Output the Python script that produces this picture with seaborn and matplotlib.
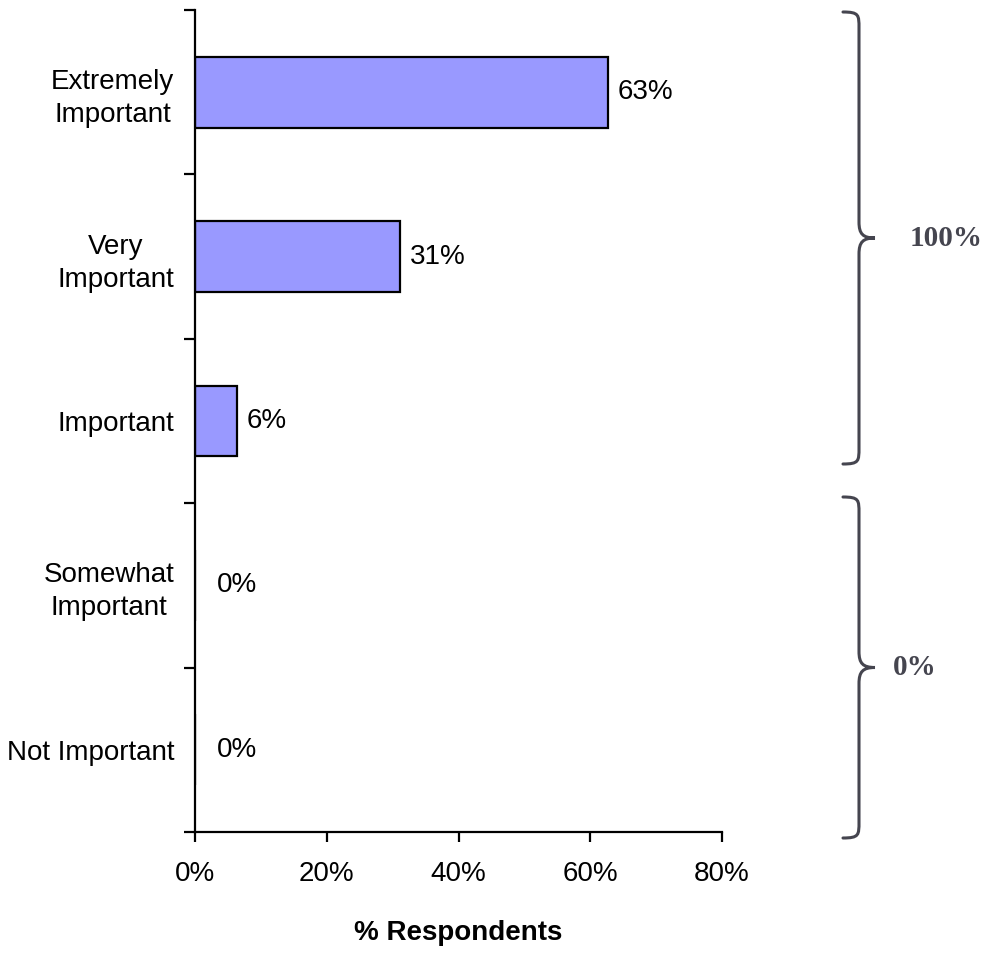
import pandas as pd
import seaborn as sns
import matplotlib.pyplot as plt
from matplotlib.path import Path
from matplotlib.patches import PathPatch

# data
categories = ['Extremely\nImportant', 'Very\nImportant', 'Important',
              'Somewhat\nImportant', 'Not Important']
percents = [62.7, 31.1, 6.4, 0.0, 0.0]
x_ticks = [0, 20, 40, 60, 80]

# bracket groups: label, top px, bottom px (figure pixels)
group_labels = ['100%', '0%']
group_tops = [12, 497]
group_bottoms = [464, 838]
group_text_x = [910, 893]

BAR_COLOR = '#9999FF'
BRACE_COLOR = '#45454f'


def draw_brace(ax, top, bottom, x_end=843, x_mid=859, x_tip=875):
    tip = (top + bottom) / 2
    r = 16
    verts = [(x_end, top),
             (x_mid, top), (x_mid, top + 3), (x_mid, top + r),
             (x_mid, tip - r),
             (x_mid, tip - 4), (x_mid + 4, tip), (x_tip, tip),
             (x_mid + 4, tip), (x_mid, tip + 4), (x_mid, tip + r),
             (x_mid, bottom - r),
             (x_mid, bottom - 3), (x_mid, bottom), (x_end, bottom)]
    codes = ([Path.MOVETO] + [Path.CURVE4] * 3 + [Path.LINETO]
             + [Path.CURVE4] * 6 + [Path.LINETO] + [Path.CURVE4] * 3)
    ax.add_patch(PathPatch(Path(verts, codes), facecolor='none',
                           edgecolor=BRACE_COLOR, lw=2.2, capstyle='round'))
    return tip


def main():
    sns.set_theme(style='white')
    plt.rcParams['font.family'] = ['Liberation Sans', 'DejaVu Sans']
    plt.rcParams['text.color'] = 'black'
    plt.rcParams['xtick.color'] = 'black'
    plt.rcParams['ytick.color'] = 'black'
    plt.rcParams['axes.labelcolor'] = 'black'

    df = pd.DataFrame({'Category': categories, 'Percent': percents})

    fig = plt.figure(figsize=(9.82, 9.58), dpi=100)
    ax = fig.add_axes([195 / 982, 126 / 958, 527 / 982, 822 / 958])

    sns.barplot(data=df, x='Percent', y='Category', orient='h',
                color=BAR_COLOR, edgecolor='black', linewidth=1.6,
                width=0.43, saturation=1, ax=ax)

    ax.set_xlim(0, 80)
    ax.set_ylim(len(categories) - 0.5, -0.5)
    ax.set_xticks(x_ticks)
    ax.set_xticklabels([f'{t}%' for t in x_ticks], fontsize=20)

    # ticks at the category boundaries, labels in the middle
    ax.set_yticks([i - 0.5 for i in range(len(categories) + 1)])
    ax.set_yticklabels([])
    ax.set_yticks(range(len(categories)), minor=True)
    ax.set_yticklabels(categories, minor=True, fontsize=20,
                       multialignment='center', linespacing=1.35)
    ax.tick_params(axis='y', which='minor', length=0, pad=15)
    ax.tick_params(axis='y', which='major', length=8, width=1.6,
                   direction='out', left=True)
    ax.tick_params(axis='x', length=7, width=1.6, direction='out',
                   bottom=True, pad=14)

    for side in ['top', 'right']:
        ax.spines[side].set_visible(False)
    for side in ['left', 'bottom']:
        ax.spines[side].set_color('black')
        ax.spines[side].set_linewidth(1.6)

    ax.set_xlabel('% Respondents', fontsize=20, fontweight='bold',
                  labelpad=24)
    ax.set_ylabel('')

    for i, v in enumerate(percents):
        off = 16 if v == 0 else 7
        ax.annotate(f'{v:.0f}%', xy=(v, i), xytext=(off, 0),
                    textcoords='offset points', ha='left', va='center',
                    fontsize=20)

    # braces on the right, drawn in figure pixel space
    ov = fig.add_axes([0, 0, 1, 1])
    ov.set_xlim(0, 982)
    ov.set_ylim(958, 0)
    ov.axis('off')
    for label, top, bottom, tx in zip(group_labels, group_tops,
                                      group_bottoms, group_text_x):
        tip = draw_brace(ov, top, bottom)
        ov.text(tx, tip, label, ha='left', va='center', fontsize=21,
                fontweight='bold', color=BRACE_COLOR,
                family=['Liberation Serif', 'DejaVu Serif'])

    fig.savefig('out.png', dpi=100)


if __name__ == '__main__':
    main()
